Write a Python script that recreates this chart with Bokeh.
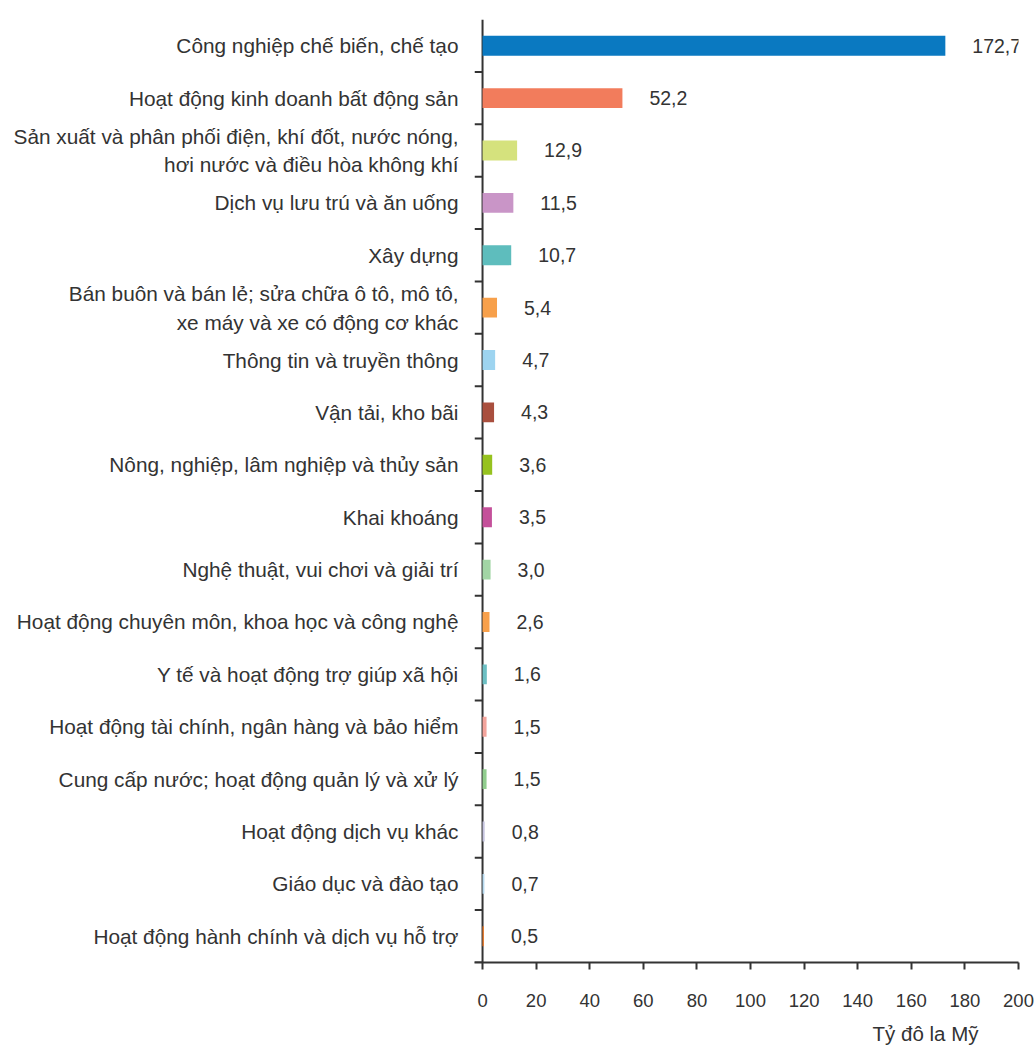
from bokeh.plotting import figure
from bokeh.models import ColumnDataSource, LabelSet, Range1d, FixedTicker, Span, Title
from bokeh.core.properties import value
from bokeh.embed import file_html
from bokeh.resources import INLINE

categories = [
    "Công nghiệp chế biến, chế tạo",
    "Hoạt động kinh doanh bất động sản",
    "Sản xuất và phân phối điện, khí đốt, nước nóng,\nhơi nước và điều hòa không khí",
    "Dịch vụ lưu trú và ăn uống",
    "Xây dựng",
    "Bán buôn và bán lẻ; sửa chữa ô tô, mô tô,\nxe máy và xe có động cơ khác",
    "Thông tin và truyền thông",
    "Vận tải, kho bãi",
    "Nông, nghiệp, lâm nghiệp và thủy sản",
    "Khai khoáng",
    "Nghệ thuật, vui chơi và giải trí",
    "Hoạt động chuyên môn, khoa học và công nghệ",
    "Y tế và hoạt động trợ giúp xã hội",
    "Hoạt động tài chính, ngân hàng và bảo hiểm",
    "Cung cấp nước; hoạt động quản lý và xử lý",
    "Hoạt động dịch vụ khác",
    "Giáo dục và đào tạo",
    "Hoạt động hành chính và dịch vụ hỗ trợ",
]
values = [172.7, 52.2, 12.9, 11.5, 10.7, 5.4, 4.7, 4.3, 3.6, 3.5, 3.0, 2.6, 1.6, 1.5, 1.5, 0.8, 0.7, 0.5]
value_labels = ["172,7", "52,2", "12,9", "11,5", "10,7", "5,4", "4,7", "4,3", "3,6", "3,5",
                "3,0", "2,6", "1,6", "1,5", "1,5", "0,8", "0,7", "0,5"]
colors = ["#0a79c1", "#f27c5c", "#d5e27d", "#c995c7", "#5ebdbd", "#f7a04b", "#9dd4f0", "#a94f3e",
          "#96c21f", "#c4509a", "#a2d5a5", "#f8a04b", "#6cbfc3", "#f3a49c", "#91cd8e", "#c6c4df",
          "#b6d9ee", "#ef7b2a"]
x_ticks = [0, 20, 40, 60, 80, 100, 120, 140, 160, 180, 200]
unit_label = "Tỷ đô la Mỹ"

TEXT = "#333333"
FONT = "Liberation Sans"
X_START = -3.0

n = len(categories)
ypos = [n - 0.5 - i for i in range(n)]
bounds = list(range(0, n))

src = ColumnDataSource(dict(cat=categories, val=values, lab=value_labels, color=colors, y=ypos))
tick_src = ColumnDataSource(dict(y=bounds, x0=[X_START] * n, x1=[0] * n))

p = figure(width=1035, height=1055, output_backend="svg", toolbar_location=None,
           x_range=Range1d(X_START, 200), y_range=Range1d(0, n),
           min_border_left=474, min_border_right=17, min_border_top=19, min_border_bottom=92)
p.outline_line_color = None
p.xgrid.visible = False
p.ygrid.visible = False

# value-axis line at zero (under the bars) and category boundary ticks
p.add_layout(Span(location=0, dimension="height", line_color=TEXT, line_width=2, level="underlay"))
p.segment(x0="x0", x1="x1", y0="y", y1="y", line_color=TEXT, line_width=2, source=tick_src)

p.hbar(y="y", right="val", left=0, height=0.38, fill_color="color", line_color=None, source=src)

# value labels
p.add_layout(LabelSet(x="val", y="y", text="lab", source=src, x_offset=27,
                      text_align="left", text_baseline="middle",
                      text_font=value(FONT), text_font_size="19.5px", text_color=TEXT))

# x axis
ax = p.xaxis[0]
ax.ticker = FixedTicker(ticks=x_ticks)
ax.minor_tick_line_color = None
ax.major_tick_in = 0
ax.major_tick_out = 7
ax.axis_line_width = 2
ax.axis_line_color = TEXT
ax.major_tick_line_width = 2
ax.major_tick_line_color = TEXT
ax.major_label_standoff = 24
ax.major_label_text_font = FONT
ax.major_label_text_font_size = "18.5px"
ax.major_label_text_color = TEXT

# y axis: category names as tick labels at row centres
ay = p.yaxis[0]
ay.ticker = FixedTicker(ticks=ypos)
ay.major_label_overrides = {y: c for y, c in zip(ypos, categories)}
ay.minor_tick_line_color = None
ay.major_tick_line_color = None
ay.major_tick_in = 0
ay.major_tick_out = 0
ay.axis_line_color = None
ay.major_label_standoff = 16
ay.major_label_text_font = FONT
ay.major_label_text_font_size = "20.8px"
ay.major_label_text_line_height = 1.25
ay.major_label_text_color = TEXT

p.add_layout(Title(text=unit_label, align="right", offset=40, standoff=21, vertical_align="bottom",
                   text_font=FONT, text_font_size="20.5px", text_font_style="normal",
                   text_color=TEXT), "below")

open("out.html", "w").write(file_html(p, INLINE))
